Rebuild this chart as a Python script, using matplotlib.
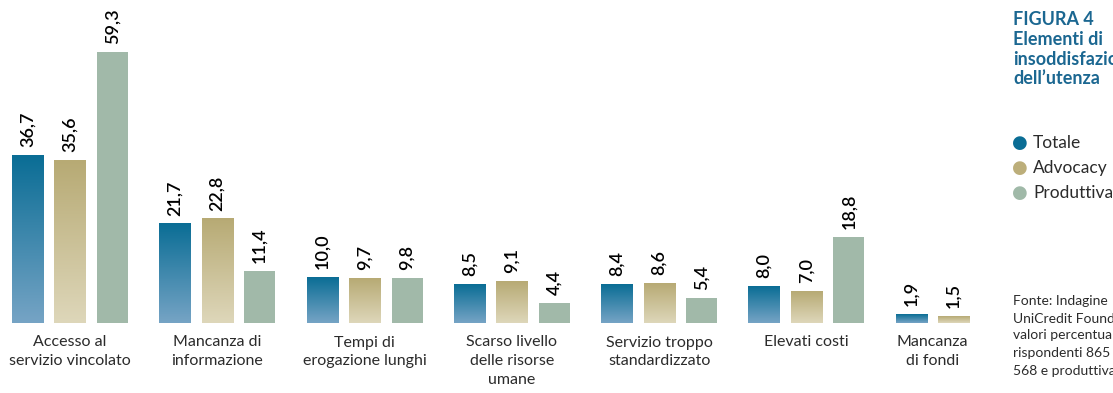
import numpy as np
import matplotlib
matplotlib.use('Agg')
import matplotlib.pyplot as plt
from matplotlib.colors import LinearSegmentedColormap

plt.rcParams['font.family'] = ['Lato', 'DejaVu Sans']

categorie = ['Accesso al\nservizio vincolato', 'Mancanza di\ninformazione',
             'Tempi di\nerogazione lunghi', 'Scarso livello\ndelle risorse\numane',
             'Servizio troppo\nstandardizzato', 'Elevati costi', 'Mancanza\ndi fondi']
totale = [36.7, 21.7, 10.0, 8.5, 8.4, 8.0, 1.9]
advocacy = [35.6, 22.8, 9.7, 9.1, 8.6, 7.0, 1.5]
produttiva = [59.3, 11.4, 9.8, 4.4, 5.4, 18.8, np.nan]
serie = ['Totale', 'Advocacy', 'Produttiva']

blu = LinearSegmentedColormap.from_list('blu', ['#76a4c5', '#0a6d95'])
oro = LinearSegmentedColormap.from_list('oro', ['#ded7ba', '#b7aa74'])
colori_legenda = ['#0a6d95', '#bcae7a', '#a0b9a8']
verde = '#a1b9a9'
titolo_col = '#1b6791'
testo_col = '#2b2b2b'

fig = plt.figure(figsize=(11.13, 3.93), dpi=100)
ax = fig.add_axes([0, 70/393, 990/1113, 323/393])

x = np.arange(len(categorie))
off = 0.2885
w = 0.2105
ax.set_xlim(-0.475, 6.246)
ax.set_ylim(0, 70.7)

grad = np.linspace(0, 1, 256).reshape(-1, 1)
valori = [totale, advocacy, produttiva]
for k, vals in enumerate(valori):
    v = np.array(vals, dtype=float)
    ok = ~np.isnan(v)
    bars = ax.bar(x[ok] + (k - 1) * off, v[ok], width=w, color=verde if k == 2 else 'none',
                  edgecolor='none', zorder=2)
    for b, val in zip(bars, v[ok]):
        bx, bw, bh = b.get_x(), b.get_width(), b.get_height()
        if k < 2:
            ax.imshow(grad, cmap=blu if k == 0 else oro, aspect='auto', origin='lower',
                      extent=[bx, bx + bw, 0, bh], zorder=2, interpolation='bilinear')
        ax.annotate(f'{val:.1f}'.replace('.', ','), (bx + bw / 2, bh),
                    xytext=(0, 6), textcoords='offset points', rotation=90,
                    ha='center', va='bottom', fontsize=13, fontweight='semibold',
                    color='black')

# etichette centrate sulle barre presenti
pos = []
for i in range(len(categorie)):
    presenti = [(k - 1) * off for k, vals in enumerate(valori) if not np.isnan(vals[i])]
    pos.append(i + np.mean(presenti))
ax.set_xticks(pos)
ax.set_xticklabels(categorie, fontsize=11.5, color=testo_col, linespacing=1.45)
ax.tick_params(axis='x', length=0, pad=9)
ax.set_yticks([])
for s in ax.spines.values():
    s.set_visible(False)

# pannello laterale
xt = 1013 / 1113
fig.text(xt, 1 - 11/393, 'FIGURA 4\nElementi di\ninsoddisfazione\ndell\u2019utenza',
         ha='left', va='top', fontsize=13, fontweight='bold', color=titolo_col, linespacing=1.2)
for j, (nome, c) in enumerate(zip(serie, colori_legenda)):
    yy = 1 - (143 + 25 * j) / 393
    fig.text(1020 / 1113, yy, '\u25cf', ha='center', va='center', fontsize=13, color=c,
             family='DejaVu Sans')
    fig.text(1033 / 1113, yy, nome, ha='left', va='center', fontsize=12.5, color=testo_col)
fig.text(xt, 1 - 295/393,
         'Fonte: Indagine\nUniCredit Foundation,\nvalori percentuali;\n'
         'rispondenti 865 (advocacy\n568 e produttiva 297)',
         ha='left', va='top', fontsize=10, color=testo_col, linespacing=1.5)

fig.savefig('out.png', dpi=100)
